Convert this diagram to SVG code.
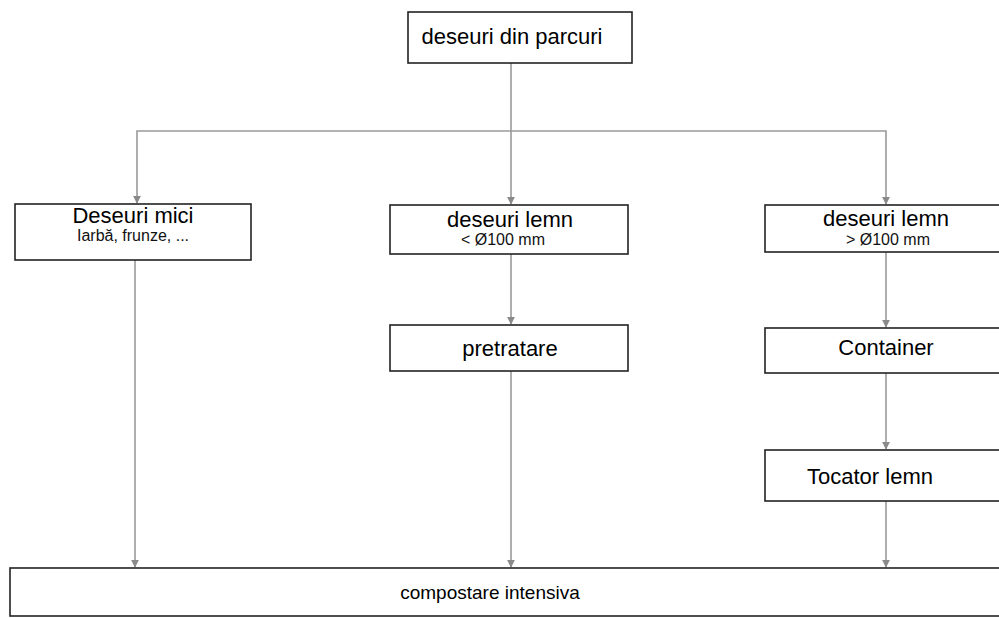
<svg xmlns="http://www.w3.org/2000/svg" width="999" height="618" viewBox="0 0 999 618">
<style>
.box{fill:#fff;stroke:#222;stroke-width:1.6}
.t{font-family:"Liberation Sans",Arial,sans-serif;font-size:22px;fill:#000;text-anchor:middle}
.s{font-family:"Liberation Sans",Arial,sans-serif;font-size:16px;fill:#111;text-anchor:middle}
.c{fill:none;stroke:#9a9a9a;stroke-width:1.6;marker-end:url(#ah)}
</style>
<defs>
<marker id="ah" viewBox="0 0 10 10" refX="9" refY="5" markerWidth="8" markerHeight="8" orient="auto" markerUnits="userSpaceOnUse">
<path d="M0,0 L10,5 L0,10 z" fill="#8a8a8a"/>
</marker>
</defs>
<rect width="999" height="618" fill="#fff"/>
<g id="connectors">
<line class="c" x1="511" y1="63" x2="511" y2="204"/>
<polyline class="c" points="511,131 137,131 137,203"/>
<polyline class="c" points="511,131 886,131 886,204"/>
<line class="c" x1="135" y1="260" x2="135" y2="567"/>
<line class="c" x1="511" y1="254" x2="511" y2="324"/>
<line class="c" x1="511" y1="371" x2="511" y2="567"/>
<line class="c" x1="886" y1="252" x2="886" y2="327"/>
<line class="c" x1="886" y1="373" x2="886" y2="449"/>
<line class="c" x1="886" y1="501" x2="886" y2="567"/>
</g>
<g id="n_parcuri">
<rect class="box" x="408" y="12" width="224" height="51"/>
<text class="t" x="512" y="44">deseuri din parcuri</text>
</g>
<g id="n_mici">
<rect class="box" x="15" y="204" width="236" height="56"/>
<text class="t" x="133" y="223">Deseuri mici</text>
<text class="s" x="133" y="241">Iarbă, frunze, ...</text>
</g>
<g id="n_lemn_mic">
<rect class="box" x="390" y="205" width="238" height="49"/>
<text class="t" x="510" y="227">deseuri lemn</text>
<text class="s" x="503" y="245">&lt; Ø100 mm</text>
</g>
<g id="n_lemn_mare">
<rect class="box" x="765" y="205" width="240" height="47"/>
<text class="t" x="886" y="226">deseuri lemn</text>
<text class="s" x="888" y="245">&gt; Ø100 mm</text>
</g>
<g id="n_pretratare">
<rect class="box" x="390" y="325" width="238" height="46"/>
<text class="t" x="510" y="356">pretratare</text>
</g>
<g id="n_container">
<rect class="box" x="765" y="328" width="240" height="45"/>
<text class="t" x="886" y="355">Container</text>
</g>
<g id="n_tocator">
<rect class="box" x="765" y="450" width="240" height="51"/>
<text class="t" x="870" y="484">Tocator lemn</text>
</g>
<g id="n_compostare">
<rect class="box" x="10" y="568" width="995" height="48"/>
<text class="t" x="490" y="599" style="font-size:19px">compostare intensiva</text>
</g>
</svg>
